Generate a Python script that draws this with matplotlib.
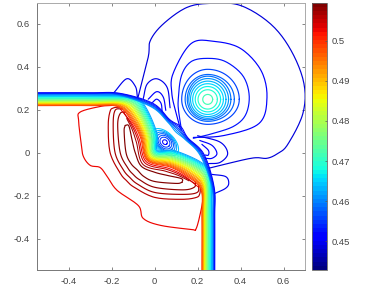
import numpy as np
import matplotlib
matplotlib.use('Agg')
import matplotlib.pyplot as plt
from matplotlib.cm import ScalarMappable
from matplotlib.colors import Normalize

plt.rcParams['font.family'] = ['Liberation Sans']
plt.rcParams['font.size'] = 6.8
plt.rcParams['axes.unicode_minus'] = False

clim = (0.4429, 0.5095)
x_ticks = [-0.4, -0.2, 0, 0.2, 0.4, 0.6]
y_ticks = [-0.4, -0.2, 0, 0.2, 0.4, 0.6]
cbar_ticks = [0.45, 0.46, 0.47, 0.48, 0.49, 0.5]

# band lines that wrap round the lower vortex (left half, mirrored for the bottom arm)
wrap_level = [.500, .498, .496, .494, .492, .490, .488, .486, .484, .482,
              .480, .478, .476, .474, .472, .470, .468, .466, .464, .462]
wrap_y0 = [.220, .222, .224, .226, .228, .230, .232, .234, .236, .238,
           .241, .244, .247, .250, .253, .256, .259, .262, .265, .268]
wrap_p1x = [-.170, -.167, -.163, -.160, -.156, -.153, -.149, -.146, -.142, -.139,
            -.135, -.132, -.128, -.124, -.120, -.116, -.112, -.108, -.104, -.100]
wrap_p1y = [.215, .217, .219, .221, .224, .226, .228, .230, .233, .235,
            .238, .240, .243, .245, .248, .250, .253, .255, .258, .260]
wrap_p2x = [-.105, -.102, -.098, -.095, -.091, -.088, -.084, -.081, -.077, -.074,
            -.070, -.067, -.064, -.061, -.058, -.055, -.052, -.049, -.046, -.043]
wrap_p2y = [.145, .149, .152, .156, .160, .163, .167, .170, .174, .178,
            .181, .185, .189, .192, .196, .200, .203, .207, .211, .215]
wrap_p3x = [-.066, -.062, -.058, -.054, -.050, -.046, -.042, -.038, -.034, -.030,
            -.026, -.022, -.018, -.014, -.009, -.005, -.001, .003, .007, .011]
wrap_p3y = [.072, .073, .074, .075, .076, .077, .078, .079, .080, .081,
            .082, .083, .084, .085, .086, .087, .088, .089, .090, .091]
wrap_d = [-.035, -.032, -.030, -.027, -.025, -.022, -.020, -.017, -.015, -.012,
          -.010, -.007, -.005, -.002, .000, .003, .005, .008, .010, .013]

# outer band lines, they only follow the chamfer
outer_level = [.462, .460, .458, .456, .454, .452]
outer_y0 = [.271, .273, .275, .277, .278, .280]
outer_p1y = [.266, .268, .270, .272, .275, .277]
outer_p2x = [-.012, -.011, -.010, -.009, -.008, -.007]
outer_p2y = [.212, .215, .219, .222, .226, .230]
outer_p3x = [.062, .063, .065, .066, .068, .070]
outer_p3y = [.142, .145, .148, .150, .153, .155]
outer_d = [.098, .103, .108, .112, .117, .122]

# closed rings round the lower vortex core
core_level = [.452, .4545, .4565, .4585, .4605, .4625, .4645]
core_major = [.012, .026, .036, .046, .056, .066, .078]
core_minor = [.010, .020, .027, .032, .036, .040, .044]
core_x, core_y = 0.048, 0.050

# rings of the upper vortex, extents from the centre
ring_level = [.4715, .4695, .4675, .4655, .4635, .4615, .4595, .4575, .4555]
ring_right = [.023, .045, .060, .073, .085, .097, .108, .124, .147]
ring_left = [.023, .045, .058, .070, .080, .088, .095, .105, .121]
ring_top = [.023, .045, .060, .073, .085, .097, .108, .116, .140]
ring_bottom = [.023, .045, .058, .070, .080, .088, .095, .102, .116]
ring_x, ring_y = 0.247, 0.249

# traced contours: (x, y)
big_loop = [(-.077, .26), (-.03, .445), (-.02, .523), (.04, .60), (.15, .677), (.263, .696),
            (.40, .686), (.54, .60), (.635, .477), (.695, .323), (.69, .183), (.62, .04),
            (.574, -.002), (.523, -.025), (.449, -.025), (.249, -.072)]
loop_2 = [(.12, .11), (.10, .184), (.08, .277), (.086, .37), (.17, .509), (.277, .519),
          (.40, .486), (.495, .384), (.523, .258), (.486, .137), (.323, .081), (.18, .072)]
loop_3 = [(.125, .105), (.112, .19), (.11, .25), (.125, .36), (.17, .425), (.247, .44),
          (.33, .425), (.41, .36), (.44, .27), (.425, .18), (.37, .125), (.27, .09), (.18, .068)]
lobes = [
    [(-.19, .28), (-.13, .345), (-.09, .31), (-.08, .26)],
    [(-.053, .253), (-.035, .32), (.01, .345), (.058, .305), (.072, .21)],
    [(-.03, .25), (.01, .285), (.04, .26), (.052, .198)],
    [(-.01, .235), (.01, .25), (.03, .23), (.035, .19)],
    [(.20, .08), (.305, .05), (.34, -.003), (.305, -.044), (.25, -.05)],
    [(.21, .058), (.267, .035), (.29, -.003), (.267, -.025), (.235, -.025)],
    [(.22, .04), (.25, .012), (.25, -.01), (.235, -.01)],
    [(.267, -.10), (.33, -.11), (.345, -.14), (.33, -.165), (.277, -.19)],
]
lobe_level = [.4495, .4495, .4505, .4515, .4495, .4505, .4515, .4495]

red_loop = [(-.198, .221), (-.254, .216), (-.347, .19), (-.354, .15), (-.342, .044),
            (-.332, -.016), (-.30, -.058), (-.254, -.068), (-.221, -.11), (-.175, -.174),
            (-.076, -.245), (-.053, -.305), (.026, -.337), (.17, -.356), (.193, -.353),
            (.216, -.267), (.23, -.187)]
red_level = 0.503

# dark red tongues, left half
tongue_level = [.5055, .507, .508]
tongues = [
    [(-.165, .213), (-.19, .21), (-.207, .195), (-.216, .128), (-.207, 0), (-.16, -.095), (-.13, -.13)],
    [(-.15, .205), (-.184, .198), (-.193, .13), (-.184, 0), (-.145, -.08), (-.115, -.115)],
    [(-.135, .19), (-.16, .184), (-.172, .13), (-.16, 0), (-.125, -.07), (-.10, -.10)],
]
crescent_level = .509
crescent_outer = [(-.137, .128), (-.142, .10), (-.133, 0), (-.11, -.05), (-.08, -.08)]
crescent_inner = [(-.137, .128), (-.12, .125), (-.105, .06), (-.09, 0), (-.062, -.062)]
# dark lines packed on the outer side of the rainbow
inner_level = [.503, .505, .507]
inner_lines = [
    [(-.16, .205), (-.105, .135), (-.072, .065), (-.04, -.04)],
    [(-.145, .19), (-.105, .125), (-.078, .06), (-.046, -.046)],
    [(-.13, .16), (-.105, .11), (-.085, .05), (-.054, -.054)],
]


def smooth(pts, n=12):
    # catmull-rom through the traced points
    pts = np.array(pts, dtype=float)
    p = np.vstack([2 * pts[0] - pts[1], pts, 2 * pts[-1] - pts[-2]])
    out = []
    for i in range(1, len(p) - 2):
        for t in np.linspace(0, 1, n, endpoint=False):
            out.append(0.5 * (2 * p[i] + (p[i + 1] - p[i - 1]) * t
                              + (2 * p[i - 1] - 5 * p[i] + 4 * p[i + 1] - p[i + 2]) * t ** 2
                              + (3 * p[i] - p[i - 1] - 3 * p[i + 1] + p[i + 2]) * t ** 3))
    out.append(pts[-1])
    return np.array(out)


def mirror(half):
    # the picture is close to symmetric about y = x
    rev = [(y, x) for x, y in half[-2::-1]]
    return list(half) + rev


fig = plt.figure(figsize=(3.82, 2.86), dpi=100)
ax = fig.add_axes([36.5 / 382, 16 / 286, 268.5 / 382, 267.5 / 286])
cmap = plt.get_cmap('jet', 64)
norm = Normalize(*clim)
lw = 0.85
band_lw = 0.75


def line(pts, level, lw=lw):
    xy = smooth(pts)
    ax.plot(xy[:, 0], xy[:, 1], color=cmap(norm(level)), lw=lw, solid_capstyle='round')


ax.set_xlim(-0.55, 0.7)
ax.set_ylim(-0.545, 0.7)

# upper vortex
t = np.linspace(0, 2 * np.pi, 121)
for lev, r, l, top, b in zip(ring_level, ring_right, ring_left, ring_top, ring_bottom):
    rx = np.where(np.cos(t) > 0, r, l)
    ry = np.where(np.sin(t) > 0, top, b)
    ax.plot(ring_x + rx * np.cos(t), ring_y + ry * np.sin(t), color=cmap(norm(lev)), lw=lw)
line(big_loop, .449)
line(loop_2, .4505)
line(loop_3, .4525)
for pts, lev in zip(lobes, lobe_level):
    line(pts, lev)

# lower vortex
ang = np.deg2rad(-45)
for lev, a, b in zip(core_level, core_major, core_minor):
    u, v = a * np.cos(t), b * np.sin(t)
    ax.plot(core_x + u * np.cos(ang) - v * np.sin(ang),
            core_y + u * np.sin(ang) + v * np.cos(ang), color=cmap(norm(lev)), lw=band_lw)

line(red_loop, red_level)
for pts, lev in zip(tongues, tongue_level):
    line(mirror(pts), lev)
line(mirror(crescent_outer), crescent_level)
line(mirror(crescent_inner), crescent_level)
for pts, lev in zip(inner_lines, inner_level):
    line(mirror(pts), lev, band_lw)

# band lines
for i, lev in enumerate(wrap_level):
    half = [(-.55, wrap_y0[i]), (-.30, wrap_y0[i]), (wrap_p1x[i], wrap_p1y[i]),
            (wrap_p2x[i], wrap_p2y[i]), (wrap_p3x[i], wrap_p3y[i]), (wrap_d[i], wrap_d[i])]
    line(mirror(half), lev, band_lw)
for i, lev in enumerate(outer_level):
    half = [(-.55, outer_y0[i]), (-.30, outer_y0[i]), (-.16, outer_p1y[i]),
            (outer_p2x[i], outer_p2y[i]), (outer_p3x[i], outer_p3y[i]), (outer_d[i], outer_d[i])]
    line(mirror(half), lev, band_lw)

ax.set_xticks(x_ticks)
ax.set_xticklabels(['-0.4', '-0.2', '0', '0.2', '0.4', '0.6'])
ax.set_yticks(y_ticks)
ax.set_yticklabels(['-0.4', '-0.2', '0', '0.2', '0.4', '0.6'])
ax.tick_params(direction='in', top=True, right=True, length=2.2, width=0.5, color='#555555',
               labelcolor='#444444', labelsize=6.8, pad=5)
for name, spine in ax.spines.items():
    spine.set_linewidth(0.7)
    spine.set_color('#777777')
ax.spines['top'].set_color('#aaaaaa')
ax.spines['right'].set_color('#aaaaaa')

cax = fig.add_axes([312 / 382, 16 / 286, 15 / 382, 267.5 / 286])
cb = fig.colorbar(ScalarMappable(norm=norm, cmap=cmap), cax=cax)
cb.set_ticks(cbar_ticks)
cb.set_ticklabels(['0.45', '0.46', '0.47', '0.48', '0.49', '0.5'])
cax.tick_params(direction='in', length=1.8, width=0.5, color='#555555', labelcolor='#444444',
                labelsize=6.8, pad=3)
cb.outline.set_linewidth(0.6)
cb.outline.set_edgecolor('#666666')

fig.savefig('out.png', dpi=100)
